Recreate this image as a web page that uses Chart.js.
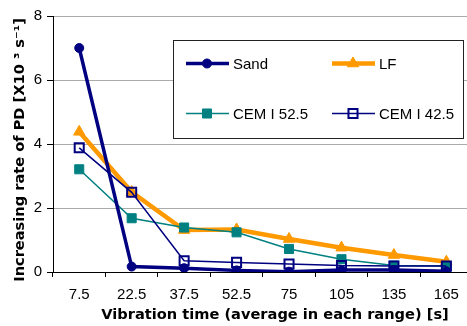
<!DOCTYPE html>
<html>
<head>
<meta charset="utf-8">
<script src="https://cdn.jsdelivr.net/npm/chart.js@4/dist/chart.umd.min.js"></script>
<style>
  html, body { margin: 0; padding: 0; background: #fff; overflow: hidden; }
  #wrap { position: relative; width: 481px; height: 326px; }
</style>
</head>
<body>
<div id="wrap"><canvas id="myChart"></canvas></div>
<script>
// categories (vibration time) and series values
let categories = ['7.5', '22.5', '37.5', '52.5', '75', '105', '135', '165'];
let sandValues = [7.0, 0.17, 0.12, 0.05, 0.01, 0.06, 0.06, 0.02];
let lfValues = [4.38, 2.5, 1.31, 1.33, 1.03, 0.76, 0.53, 0.32];
let cem525Values = [3.21, 1.68, 1.39, 1.24, 0.72, 0.40, 0.20, 0.19];
let cem425Values = [3.88, 2.49, 0.35, 0.30, 0.25, 0.20, 0.19, 0.19];
let yTicks = [0, 2, 4, 6, 8];
let xTitle = 'Vibration time (average in each range) [s]';
let yTitle = 'Increasing rate of PD [X10 ³ s⁻¹]';

let NAVY = '#000080';
let ORANGE = '#FF9900';
let TEAL = '#008080';
let FONT = '"Liberation Sans", Arial, sans-serif';

let ctx = document.getElementById('myChart').getContext('2d');

// dessine un marqueur comme Chart.js le fait
function drawMarker(c, style, x, y, r, fill, stroke, bw) {
    c.save();
    c.beginPath();
    if (style === 'circle') {
        c.arc(x, y, r, 0, Math.PI * 2);
    } else if (style === 'triangle') {
        c.moveTo(x, y - r);
        c.lineTo(x + Math.sin(Math.PI * 2 / 3) * r, y + r / 2);
        c.lineTo(x - Math.sin(Math.PI * 2 / 3) * r, y + r / 2);
        c.closePath();
    } else {
        let s = Math.SQRT1_2 * r;
        c.rect(x - s, y - s, 2 * s, 2 * s);
    }
    c.fillStyle = fill;
    c.fill();
    c.lineWidth = bw;
    c.strokeStyle = stroke;
    c.stroke();
    c.restore();
}

// légende encadrée sur deux colonnes
let boxLegend = {
    id: 'boxLegend',
    afterDraw(chart) {
        let c = chart.ctx;
        c.save();
        c.fillStyle = '#fff';
        c.fillRect(173, 40, 290, 98);
        c.strokeStyle = '#222';
        c.lineWidth = 1;
        c.strokeRect(173.5, 40.5, 290, 98);
        let items = [
            { ds: 0, x: 186, y: 63.5 },
            { ds: 1, x: 332, y: 63.5 },
            { ds: 2, x: 186, y: 113.5 },
            { ds: 3, x: 332, y: 113.5 }
        ];
        items.forEach(function(it) {
            let d = chart.data.datasets[it.ds];
            c.beginPath();
            c.moveTo(it.x, it.y);
            c.lineTo(it.x + 43, it.y);
            c.strokeStyle = d.borderColor;
            c.lineWidth = d.borderWidth;
            c.stroke();
            drawMarker(c, d.pointStyle, it.x + 21, it.y, d.pointRadius,
                d.pointBackgroundColor, d.pointBorderColor, d.pointBorderWidth);
            c.fillStyle = '#000';
            c.font = '15px ' + FONT;
            c.textBaseline = 'middle';
            c.textAlign = 'left';
            c.fillText(d.label, it.x + 47, it.y + 1);
        });
        c.restore();
    }
};

// titres des axes (placés comme dans l'original)
let axisTitles = {
    id: 'axisTitles',
    afterDraw(chart) {
        let c = chart.ctx;
        c.save();
        c.fillStyle = '#000';
        c.font = 'bold 14.6px "DejaVu Sans", sans-serif';
        c.textAlign = 'center';
        c.textBaseline = 'middle';
        c.fillText(xTitle, 275, 315);
        c.translate(20, 150);
        c.rotate(-Math.PI / 2);
        c.fillText(yTitle, 0, 0);
        c.restore();
    }
};

let myChart = new Chart(ctx, {
    type: 'line',
    data: {
        labels: categories,
        datasets: [{
            label: 'Sand',
            data: sandValues,
            borderColor: NAVY,
            borderWidth: 3.5,
            pointStyle: 'circle',
            pointRadius: 4.5,
            pointBackgroundColor: NAVY,
            pointBorderColor: NAVY,
            pointBorderWidth: 1,
            order: 0
        }, {
            label: 'LF',
            data: lfValues,
            borderColor: ORANGE,
            borderWidth: 4.5,
            pointStyle: 'triangle',
            pointRadius: 6.5,
            pointBackgroundColor: ORANGE,
            pointBorderColor: ORANGE,
            pointBorderWidth: 1,
            order: 3
        }, {
            label: 'CEM I 52.5',
            data: cem525Values,
            borderColor: TEAL,
            borderWidth: 1.5,
            pointStyle: 'rect',
            pointRadius: 6.4,
            pointBackgroundColor: TEAL,
            pointBorderColor: TEAL,
            pointBorderWidth: 1,
            order: 2
        }, {
            label: 'CEM I 42.5',
            data: cem425Values,
            borderColor: NAVY,
            borderWidth: 1.5,
            pointStyle: 'rect',
            pointRadius: 6.4,
            pointBackgroundColor: 'rgba(255,255,255,0)',
            pointBorderColor: NAVY,
            pointBorderWidth: 2,
            order: 1
        }]
    },
    options: {
        responsive: true,
        maintainAspectRatio: false,
        animation: false,
        layout: { padding: { top: 16, right: 0, bottom: 0, left: 0 } },
        plugins: {
            legend: { display: false },
            tooltip: { enabled: false }
        },
        elements: { line: { tension: 0 } },
        scales: {
            x: {
                offset: true,
                grid: {
                    offset: true,
                    drawOnChartArea: false,
                    drawTicks: true,
                    tickLength: 5,
                    tickColor: '#000'
                },
                border: { color: '#000', width: 1 },
                ticks: {
                    color: '#000',
                    font: { family: FONT, size: 15 },
                    padding: 9,
                    maxRotation: 0,
                    autoSkip: false
                },
                afterFit: function(scale) { scale.height = 54; }
            },
            y: {
                min: 0,
                max: 8,
                afterBuildTicks: function(scale) {
                    scale.ticks = yTicks.map(v => ({ value: v }));
                },
                grid: {
                    color: '#ababab',
                    tickColor: '#000',
                    tickLength: 6,
                    lineWidth: 1
                },
                border: { color: '#000', width: 1 },
                ticks: {
                    color: '#000',
                    font: { family: FONT, size: 15 },
                    padding: 5
                },
                afterFit: function(scale) { scale.width = 53; }
            }
        }
    },
    plugins: [boxLegend, axisTitles]
});
</script>
</body>
</html>
